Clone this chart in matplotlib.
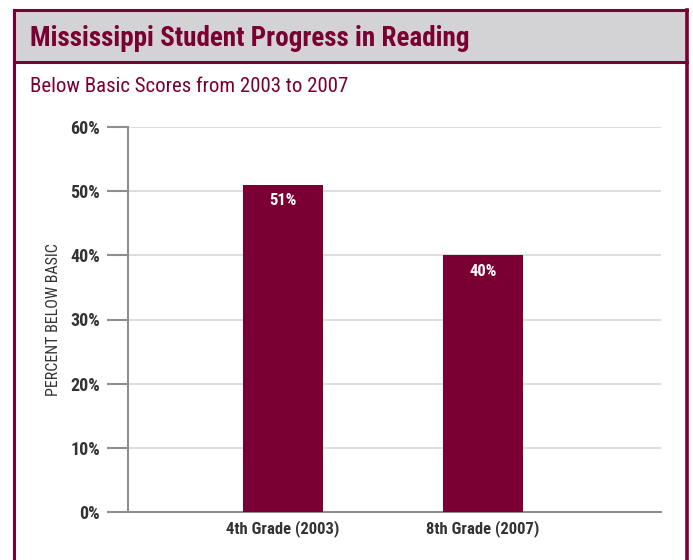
import matplotlib.pyplot as plt
from matplotlib.patches import Rectangle
from matplotlib.lines import Line2D

grades = ["4th Grade (2003)", "8th Grade (2007)"]
below_basic = [51, 40]
y_ticks = [0, 10, 20, 30, 40, 50, 60]

MAROON = "#7a0033"
AXIS_GRAY = "#8e8e8e"
TEXT = "#333333"

plt.rcParams["font.family"] = ["Roboto Condensed", "DejaVu Sans"]
plt.rcParams["font.stretch"] = "condensed"

fig = plt.figure(figsize=(6.93, 5.6), dpi=100)

# framed panel with grey header band
W, H = 693, 560
def fx(px):
    return px / W
def fy(py):
    return 1 - py / H

fig.patches.append(Rectangle((fx(14), fy(62)), fx(687) - fx(14), fy(10) - fy(62),
                             transform=fig.transFigure, facecolor="#d3d3d5",
                             edgecolor="none", zorder=0))
for xs, ys, lw in [([14, 687], [10, 10], 2.2), ([14, 687], [62, 62], 2.2),
                   ([14, 14], [10, 560], 2.2), ([687, 687], [10, 560], 2.6)]:
    fig.lines.append(Line2D([fx(x) for x in xs], [fy(y) for y in ys],
                            transform=fig.transFigure, color=MAROON, lw=lw))

fig.text(fx(30), fy(38), "Mississippi Student Progress in Reading", color=MAROON,
         fontsize=19.5, fontweight="bold", va="center", ha="left")
fig.text(fx(30), fy(87), "Below Basic Scores from 2003 to 2007", color=MAROON,
         fontsize=15, va="center", ha="left")

ax = fig.add_axes([fx(128), fy(512), fx(661) - fx(128), fy(127) - fy(512)])
x = list(range(len(grades)))
bars = ax.bar(x, below_basic, width=0.4, color=MAROON, zorder=3)
for b, v in zip(bars, below_basic):
    ax.text(b.get_x() + b.get_width() / 2, v - 2.5, f"{v}%", color="white",
            ha="center", va="center", fontsize=12, fontweight="bold", zorder=4)

ax.set_xlim(-0.775, 1.89)
ax.set_ylim(0, 60)
ax.set_yticks(y_ticks)
ax.set_yticklabels([f"{t}%" for t in y_ticks], fontsize=13, fontweight="bold", color=TEXT)
ax.set_xticks(x)
ax.set_xticklabels(grades, fontsize=12, fontweight="bold", color=TEXT)
ax.tick_params(axis="y", length=15, width=1.5, color=AXIS_GRAY, pad=5)
ax.tick_params(axis="x", length=0, pad=6)
ax.grid(axis="y", color="#dedede", lw=1.4, zorder=0)
ax.set_axisbelow(True)

for side in ["top", "right"]:
    ax.spines[side].set_visible(False)
for side in ["left", "bottom"]:
    ax.spines[side].set_color(AXIS_GRAY)
    ax.spines[side].set_linewidth(1.5)

ax.set_ylabel("PERCENT BELOW BASIC", fontsize=11.5, color=TEXT, labelpad=7)

fig.savefig("out.png", dpi=100)
